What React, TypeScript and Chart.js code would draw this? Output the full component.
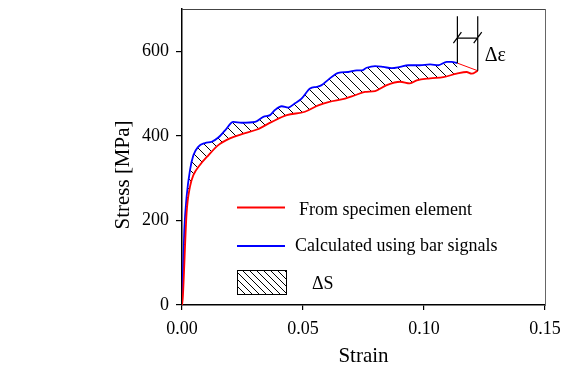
import React, { useEffect, useRef } from 'react';
import { Chart, registerables } from 'chart.js';
Chart.register(...registerables);

// Stress-strain curve from the specimen element (red)
const redStrain = [0, 0.0003, 0.0005, 0.0019, 0.0033, 0.0047, 0.0074, 0.0109, 0.015, 0.0198, 0.0247, 0.031, 0.0371, 0.0433, 0.0508, 0.0563, 0.0605, 0.0674, 0.0715, 0.0756, 0.0798, 0.0846, 0.0901, 0.0942, 0.097, 0.1025, 0.108, 0.1135, 0.1176, 0.1197, 0.1222];
const redStress = [0, 15, 35, 217, 280, 307, 331, 354, 378, 394, 404, 415, 433, 449, 457, 472, 480, 488, 496, 504, 506, 520, 528, 524, 531, 536, 539, 547, 551, 547, 554];

// Stress-strain curve calculated using bar signals (blue)
const blueStrain = [0, 0.0003, 0.00095, 0.0019, 0.0033, 0.0047, 0.0067, 0.0095, 0.0123, 0.015, 0.0178, 0.0212, 0.0247, 0.0302, 0.0336, 0.0364, 0.0384, 0.0412, 0.0439, 0.0467, 0.0494, 0.0529, 0.0557, 0.0577, 0.0605, 0.0646, 0.0687, 0.0722, 0.0743, 0.0763, 0.0798, 0.0832, 0.0867, 0.0901, 0.0935, 0.0983, 0.1025, 0.1059, 0.1094, 0.1114, 0.1138];
const blueStress = [0, 60, 177, 256, 319, 354, 374, 383, 386, 396, 413, 433, 431, 433, 445, 449, 461, 470, 467, 477, 488, 512, 516, 520, 533, 549, 551, 555, 555, 561, 565, 563, 560, 563, 567, 567, 569, 567, 575, 575, 572];

const xTicks = [0, 0.05, 0.1, 0.15];
const yTicks = [0, 200, 400, 600];
const legendLabels = ['From specimen element', 'Calculated using bar signals', '\u0394S'];
const deltaLabel = '\u0394\u03b5';
const xTitle = 'Strain';
const yTitle = 'Stress [MPa]';

const SERIF = '"Liberation Serif", "Times New Roman", serif';

function makeHatch(size: number): CanvasPattern | string {
  const c = document.createElement('canvas');
  c.width = size;
  c.height = size;
  const g = c.getContext('2d');
  if (!g) return 'rgba(0,0,0,0.2)';
  g.strokeStyle = '#000';
  g.lineWidth = 1;
  g.beginPath();
  g.moveTo(-1, -1); g.lineTo(size + 1, size + 1);
  g.moveTo(size - 1, -1); g.lineTo(size + 1, 1);
  g.moveTo(-1, size - 1); g.lineTo(1, size + 1);
  g.stroke();
  return g.createPattern(c, 'repeat') || 'rgba(0,0,0,0.2)';
}

export default function App() {
  const ref = useRef<HTMLCanvasElement | null>(null);

  useEffect(() => {
    document.body.style.margin = '0';
    const canvas = ref.current;
    if (!canvas) return;
    const hatch = makeHatch(10);
    const hatchLegend = makeHatch(7);

    const red = redStrain.map((x, i) => ({ x, y: redStress[i] }));
    const blue = blueStrain.map((x, i) => ({ x, y: blueStress[i] }));
    const closing = [blue[blue.length - 1], red[red.length - 1]];

    const overlay = {
      id: 'overlay',
      afterDraw(chart: any) {
        const { ctx, chartArea, scales } = chart;
        const xs = scales.x;
        const ys = scales.y;
        const L = chartArea.left;
        const T = chartArea.top;
        ctx.save();
        // Legend
        ctx.lineWidth = 2;
        ctx.strokeStyle = '#ff0000';
        ctx.beginPath(); ctx.moveTo(L + 55, T + 198.5); ctx.lineTo(L + 103, T + 198.5); ctx.stroke();
        ctx.strokeStyle = '#0000ff';
        ctx.beginPath(); ctx.moveTo(L + 55, T + 237); ctx.lineTo(L + 103, T + 237); ctx.stroke();
        ctx.fillStyle = hatchLegend;
        ctx.fillRect(L + 55, T + 261, 49, 24);
        ctx.lineWidth = 1;
        ctx.strokeStyle = '#000';
        ctx.strokeRect(L + 55.5, T + 261.5, 49, 24);
        ctx.fillStyle = '#000';
        ctx.font = '18px ' + SERIF;
        ctx.textBaseline = 'middle';
        ctx.textAlign = 'left';
        ctx.fillText(legendLabels[0], L + 117, T + 201);
        ctx.fillText(legendLabels[1], L + 113, T + 237);
        ctx.fillText(legendLabels[2], L + 130, T + 275);

        // Delta epsilon annotation
        const bEnd = blue[blue.length - 1];
        const rEnd = red[red.length - 1];
        const x1 = xs.getPixelForValue(bEnd.x);
        const x2 = xs.getPixelForValue(rEnd.x);
        const yTop = ys.getPixelForValue(683);
        const yH = ys.getPixelForValue(631);
        ctx.strokeStyle = '#000';
        ctx.lineWidth = 1.2;
        ctx.beginPath();
        ctx.moveTo(x1, ys.getPixelForValue(bEnd.y)); ctx.lineTo(x1, yTop);
        ctx.moveTo(x2, ys.getPixelForValue(rEnd.y)); ctx.lineTo(x2, yTop);
        ctx.moveTo(x1, yH); ctx.lineTo(x2, yH);
        ctx.moveTo(x1 - 4, yH + 5); ctx.lineTo(x1 + 4, yH - 6);
        ctx.moveTo(x2 - 4, yH + 5); ctx.lineTo(x2 + 4, yH - 6);
        ctx.stroke();
        ctx.font = '20px ' + SERIF;
        ctx.fillText(deltaLabel, x2 + 7, ys.getPixelForValue(590));

        // Y axis title
        ctx.translate(123, 175);
        ctx.rotate(-Math.PI / 2);
        ctx.textAlign = 'center';
        ctx.font = '21px ' + SERIF;
        ctx.fillText(yTitle, 0, 0);
        ctx.restore();
      },
    };

    const noPadH = (s: any) => { s.paddingLeft = 0; s.paddingRight = 0; };
    const noPadV = (s: any) => { s.paddingTop = 0; s.paddingBottom = 0; };

    const chart = new Chart(canvas, {
      type: 'scatter',
      data: {
        datasets: [
          {
            label: legendLabels[0],
            data: red,
            showLine: true,
            borderColor: '#ff0000',
            borderWidth: 1.8,
            pointRadius: 0,
            cubicInterpolationMode: 'monotone',
            fill: false,
          },
          {
            label: legendLabels[1],
            data: blue,
            showLine: true,
            borderColor: '#0000ff',
            borderWidth: 1.8,
            pointRadius: 0,
            cubicInterpolationMode: 'monotone',
            fill: { target: 0, above: hatch, below: hatch },
          },
          {
            label: 'closing',
            data: closing,
            showLine: true,
            borderColor: '#ff0000',
            borderWidth: 1,
            pointRadius: 0,
            fill: false,
          },
        ],
      },
      options: {
        responsive: false,
        animation: false,
        devicePixelRatio: 1,
        layout: { padding: { left: 0, top: 9, right: 16, bottom: 0 } },
        plugins: { legend: { display: false }, tooltip: { enabled: false } },
        scales: {
          x: {
            type: 'linear',
            position: 'bottom',
            min: 0,
            max: 0.15,
            afterBuildTicks: (s: any) => { s.ticks = xTicks.map((v) => ({ value: v })); },
            afterFit: (s: any) => { s.height = 64; noPadH(s); },
            ticks: {
              color: '#000',
              font: { family: SERIF, size: 18 },
              padding: 8,
              maxRotation: 0,
              autoSkip: false,
              callback: (v: any) => Number(v).toFixed(2),
            },
            grid: { display: true, drawOnChartArea: false, drawTicks: true, tickLength: 5, color: '#000', lineWidth: 1.2 },
            border: { display: true, color: '#000', width: 1.5 },
            title: { display: true, text: xTitle, color: '#000', font: { family: SERIF, size: 21 }, padding: { top: 0, bottom: 0 } },
          },
          y: {
            type: 'linear',
            position: 'left',
            min: 0,
            max: 700,
            afterBuildTicks: (s: any) => { s.ticks = yTicks.map((v) => ({ value: v })); },
            afterFit: (s: any) => { s.width = 182; noPadV(s); },
            ticks: {
              color: '#000',
              font: { family: SERIF, size: 18 },
              padding: 7,
              callback: (v: any) => String(v),
            },
            grid: { display: true, drawOnChartArea: false, drawTicks: true, tickLength: 6, color: '#000', lineWidth: 1.2 },
            border: { display: true, color: '#000', width: 1.5 },
          },
          x2: {
            type: 'linear',
            position: 'top',
            min: 0,
            max: 0.15,
            afterFit: (s: any) => { s.height = 0; noPadH(s); },
            ticks: { display: false },
            grid: { display: false },
            border: { display: true, color: '#444', width: 1 },
          },
          y2: {
            type: 'linear',
            position: 'right',
            min: 0,
            max: 700,
            afterFit: (s: any) => { s.width = 0; noPadV(s); },
            ticks: { display: false },
            grid: { display: false },
            border: { display: true, color: '#666', width: 1 },
          },
        },
      },
      plugins: [overlay],
    } as any);

    return () => chart.destroy();
  }, []);

  return (
    <div style={{ width: 561, height: 369, background: '#fff' }}>
      <canvas ref={ref} width={561} height={369} style={{ display: 'block' }} />
    </div>
  );
}
